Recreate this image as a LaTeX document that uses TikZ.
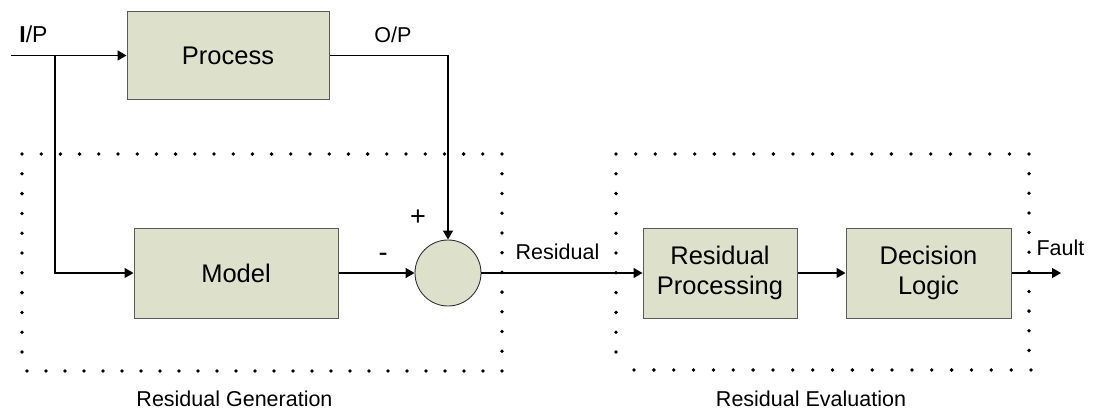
\documentclass[tikz,border=0pt]{standalone}
\usepackage{fontspec}
\setmainfont{Liberation Sans}
\usetikzlibrary{arrows.meta}
\definecolor{boxfill}{RGB}{221,225,204}
\definecolor{boxline}{RGB}{90,90,90}
\begin{document}
\begin{tikzpicture}[x=1pt,y=-1pt,
  blk/.style={draw=boxline, fill=boxfill, line width=1pt, inner sep=0pt, align=center,
              font=\fontsize{25.5}{30}\selectfont},
  sumnode/.style={circle, draw=black!80, fill=boxfill, line width=0.9pt, minimum size=66pt, inner sep=0pt},
  conn/.style={line width=1.5pt, -{Triangle[length=9pt,width=10pt]}},
  lbl/.style={font=\fontsize{21.5}{26}\selectfont, inner sep=0pt},
  sign/.style={font=\fontsize{27}{30}\selectfont, inner sep=0pt},
  dotmark/.style={fill=black}]
\useasboundingbox (0,0) rectangle (1093,410);

% dotted group frames
\foreach \i in {0,...,25} \fill[dotmark] ({22+\i*19.2},154) circle (1.9pt);
\foreach \j in {1,...,10} \fill[dotmark] (22,{154+\j*19.8}) circle (1.9pt);
\foreach \i in {0,...,25} \fill[dotmark] ({27+\i*19},371) circle (1.9pt);
\foreach \j in {1,...,10} \fill[dotmark] (502,{154+\j*19.73}) circle (1.9pt);

\foreach \i in {0,...,21} \fill[dotmark] ({616+\i*19.67},154) circle (1.9pt);
\foreach \j in {1,...,10} \fill[dotmark] (616,{154+\j*19.8}) circle (1.9pt);
\foreach \i in {0,...,20} \fill[dotmark] ({634+\i*19.85},370) circle (1.9pt);
\foreach \j in {1,...,10} \fill[dotmark] (1029,{154+\j*19.64}) circle (1.9pt);

% blocks
\node[blk, minimum width=202pt, minimum height=88pt] (proc) at (228,55.5) {Process};
\node[blk, minimum width=204pt, minimum height=90pt] (model) at (236,273) {Model};
\node[sumnode] (sum) at (448,273) {};
\node[blk, minimum width=154pt, minimum height=90pt] (rp) at (720,273) {Residual\\Processing};
\node[blk, minimum width=165pt, minimum height=90pt] (dl) at (928.5,273) {Decision\\Logic};

\coordinate (in) at (11,55.5);
\coordinate (br) at (55,55.5);
\coordinate (out) at (1061,273);

% connectors
\draw[conn] (in) -- (proc.west);
\draw[conn] (br) |- (model.west);
\draw[conn] (proc.east) -| (sum.north);
\draw[conn] (model.east) -- (sum.west);
\draw[conn] (sum.east) -- (rp.west);
\draw[conn] (rp.east) -- (dl.west);
\draw[conn] (dl.east) -- (out);

% labels
\node[lbl, font=\fontsize{23}{27}\selectfont] (ip) at (33.5,34.5) {\textbf{I}/P};
\node[lbl] (op) at (393,35) {O/P};
\node[sign] (plus) at (418,218) {+};
\node[sign] (minus) at (383,257) {-};
\node[lbl] (reslbl) at (557.5,252) {Residual};
\node[lbl] (fault) at (1060.5,248) {Fault};
\node[lbl] (gen) at (234.5,399) {Residual Generation};
\node[lbl] (eval) at (811,399) {Residual Evaluation};
\end{tikzpicture}
\end{document}
